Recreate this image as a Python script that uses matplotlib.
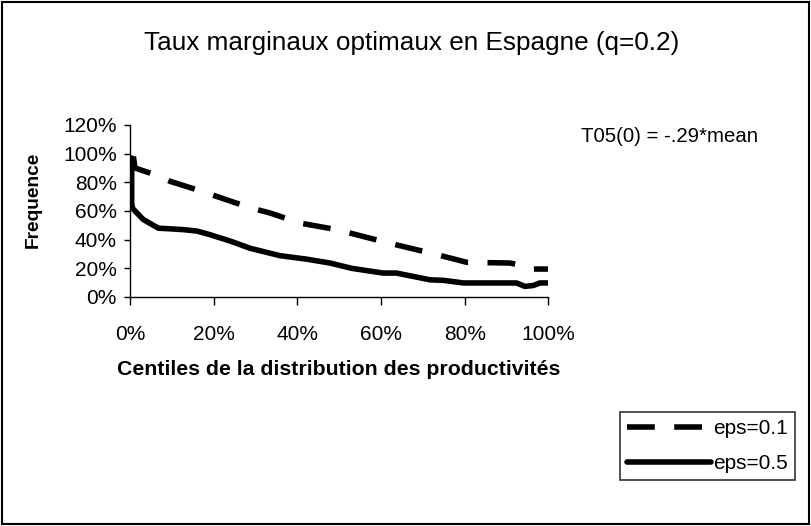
import matplotlib
matplotlib.use("Agg")
import matplotlib.pyplot as plt
from matplotlib.patches import Rectangle
from matplotlib.ticker import PercentFormatter

plt.rcParams['font.family'] = ['Liberation Sans', 'DejaVu Sans']

title = "Taux marginaux optimaux en Espagne (q=0.2)"
xlabel = "Centiles de la distribution des productivités"
ylabel = "Frequence"
note = "T05(0) = -.29*mean"

# eps=0.1 (dashed)
x_eps01 = [0.008, 0.012, 0.060, 0.096, 0.159, 0.219, 0.290, 0.335, 0.406, 0.494,
           0.574, 0.645, 0.725, 0.765, 0.805, 0.908, 0.940, 0.964, 1.000]
y_eps01 = [0.98, 0.90, 0.853, 0.807, 0.749, 0.69, 0.62, 0.586, 0.516, 0.47,
           0.41, 0.358, 0.302, 0.272, 0.242, 0.237, 0.219, 0.195, 0.195]

# eps=0.5 (solid)
x_eps05 = [0.004, 0.004, 0.006, 0.012, 0.032, 0.068, 0.10, 0.127, 0.16, 0.191,
           0.24, 0.287, 0.359, 0.42, 0.478, 0.53, 0.605, 0.637, 0.717, 0.75,
           0.797, 0.924, 0.944, 0.964, 0.98, 1.0]
y_eps05 = [0.97, 0.66, 0.62, 0.60, 0.54, 0.48, 0.475, 0.47, 0.46, 0.435,
           0.39, 0.34, 0.288, 0.265, 0.237, 0.20, 0.167, 0.167, 0.12, 0.116,
           0.098, 0.098, 0.074, 0.08, 0.098, 0.098]

fig = plt.figure(figsize=(8.11, 5.26), dpi=100)
fig.patches.append(Rectangle((0.002, 0.003), 0.995, 0.994, transform=fig.transFigure,
                             fill=False, edgecolor='black', linewidth=1.5))

ax = fig.add_axes([130/811, 1-297/526, (548.3-130)/811, (297-125)/526])
l1, = ax.plot(x_eps01, y_eps01, color='black', lw=4.0, linestyle=(0, (5, 3.5)),
              dash_capstyle='butt', solid_joinstyle='round', label='eps=0.1')
l2, = ax.plot(x_eps05, y_eps05, color='black', lw=4.0, solid_capstyle='round',
              solid_joinstyle='round', label='eps=0.5')

ax.set_xlim(0, 1)
ax.set_ylim(0, 1.2)
ax.set_xticks([0, 0.2, 0.4, 0.6, 0.8, 1.0])
ax.set_yticks([0, 0.2, 0.4, 0.6, 0.8, 1.0, 1.2])
ax.xaxis.set_major_formatter(PercentFormatter(1.0, decimals=0))
ax.yaxis.set_major_formatter(PercentFormatter(1.0, decimals=0))
for s in ['top', 'right']:
    ax.spines[s].set_visible(False)
for s in ['left', 'bottom']:
    ax.spines[s].set_linewidth(1.0)
ax.tick_params(axis='x', direction='out', length=6, width=1, pad=14, labelsize=15)
ax.tick_params(axis='y', direction='out', length=4.5, width=1, pad=5, labelsize=15)
ax.set_xlabel(xlabel, fontsize=15.3, fontweight='bold', labelpad=12)

fig.text(33/811, 1-200/526, ylabel, rotation=90, ha='center', va='center',
         fontsize=13.8, fontweight='bold')
fig.text(412/811, 1-43/526, title, ha='center', va='center', fontsize=18.8)
fig.text(670/811, 1-136/526, note, ha='center', va='center', fontsize=14.7)

leg = fig.legend(handles=[l1, l2], loc='upper left',
                 bbox_to_anchor=(620/811, 1-412/526), fontsize=15,
                 frameon=True, fancybox=False, shadow=False, handlelength=4,
                 handletextpad=0.1, borderpad=0.35, labelspacing=0.75, borderaxespad=0)
leg.get_frame().set_edgecolor('black')
leg.get_frame().set_linewidth(1.2)

fig.savefig("out.png", dpi=100)
